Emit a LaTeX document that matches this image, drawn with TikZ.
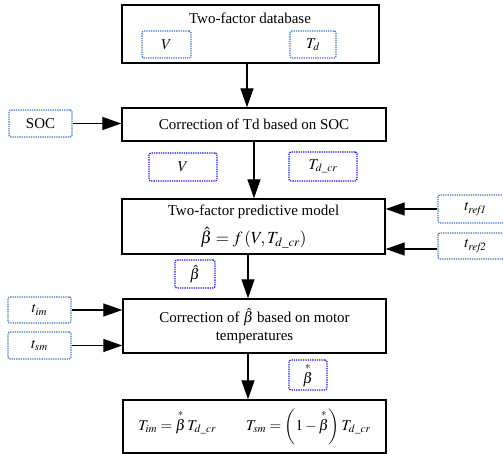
\documentclass[tikz,border=0pt]{standalone}
\usepackage{amsmath,amssymb}
\usepackage{mathptmx}
\usepackage{fontspec}
\setmainfont{Liberation Serif}
\usetikzlibrary{arrows.meta}

\definecolor{steelblue}{RGB}{68,114,196}
\definecolor{pureblue}{RGB}{20,20,240}

\tikzset{
	every node/.style={font=\fontsize{15}{18}\selectfont},
	mainbox/.style={draw, line width=1.4pt, minimum width=263pt, inner sep=0pt},
	inbox/.style={draw=steelblue, densely dotted, line width=1.3pt, rounded corners=2pt, inner sep=0pt},
	outbox/.style={draw=pureblue, densely dotted, line width=1.3pt, rounded corners=2pt, inner sep=0pt},
	arr/.style={line width=1.3pt, -{Triangle[length=19pt,width=13pt]}}
}

\begin{document}
\begin{tikzpicture}[x=1pt, y=-1pt]
		\useasboundingbox (0,0) rectangle (503,454);
		%Hauptbloecke
		\node[mainbox, minimum width=257pt, minimum height=58pt] (db) at (250.5,34) {};
		\node (dbtitle) at (250,18) {Two-factor database};
		\node[mainbox, minimum width=264pt, minimum height=33pt] (corr) at (254,124.5) {Correction of Td based on SOC};
		\node[mainbox, minimum height=55pt, align=center] (model) at (253.5,226.5)
			{Two-factor predictive model\\[7pt] {\fontsize{17}{18}\selectfont$\hat{\beta} = f\,(V, T_{d\_cr})$}};
		\node[mainbox, minimum height=54pt, align=center] (tcorr) at (254.5,326)
			{Correction of $\hat{\beta}$ based on motor\\temperatures};
		\node[mainbox, minimum height=53pt] (result) at (254.5,426.5)
			{$T_{im} = \overset{*}{\beta}\,T_{d\_cr} \qquad T_{sm} = \left(1-\overset{*}{\beta}\right)T_{d\_cr}$};
		
		%Eingangsgroessen
		\node[inbox, minimum width=49pt, minimum height=27pt] (dbV) at (166.5,44.5) {$V$};
		\node[inbox, minimum width=46pt, minimum height=27pt] (dbT) at (313,44.5) {$T_d$};
		\node[inbox, minimum width=63pt, minimum height=27pt] (soc) at (40.5,123.5) {SOC};
		\node[inbox, minimum width=75pt, minimum height=28pt] (tref1) at (475.5,209) {$t_{\mathit{ref1}}$};
		\node[inbox, minimum width=75pt, minimum height=26pt] (tref2) at (475.5,246) {$t_{\mathit{ref2}}$};
		\node[inbox, minimum width=63pt, minimum height=26pt] (tim) at (39.5,310) {$t_{im}$};
		\node[inbox, minimum width=63pt, minimum height=27pt] (tsm) at (39.5,345.5) {$t_{sm}$};
		
		%Zwischengroessen
		\node[outbox, minimum width=68pt, minimum height=28pt] (V) at (183,167) {$V$};
		\node[outbox, minimum width=68pt, minimum height=29pt] (Tdcr) at (323,166.5) {$T_{d\_cr}$};
		\node[outbox, minimum width=40pt, minimum height=28pt] (betahat) at (195,274) {$\hat{\beta}$};
		\node[outbox, minimum width=38pt, minimum height=30pt] (betastar) at (308,375) {$\overset{*}{\beta}$};
		
		\draw[arr] ([xshift=-3.5pt]db.south) -- ([xshift=-3.5pt]db.south |- corr.north);
		\draw[arr] (corr.south) -- (corr.south |- model.north);
		\draw[arr] ([xshift=-5.5pt]model.south) -- ([xshift=-5.5pt]model.south |- tcorr.north);
		\draw[arr] ([xshift=-6.5pt]tcorr.south) -- ([xshift=-6.5pt]tcorr.south |- result.north);
		\draw[arr] (soc.east) -- (soc.east -| corr.west);
		\draw[arr] (tref1.west) -- (tref1.west -| model.east);
		\draw[arr] ([yshift=-3pt]tref2.west) -- ([yshift=-3pt]tref2.west -| model.east);
		\draw[arr] (tim.east) -- (tim.east -| tcorr.west);
		\draw[arr] (tsm.east) -- (tsm.east -| tcorr.west);
\end{tikzpicture}
\end{document}
